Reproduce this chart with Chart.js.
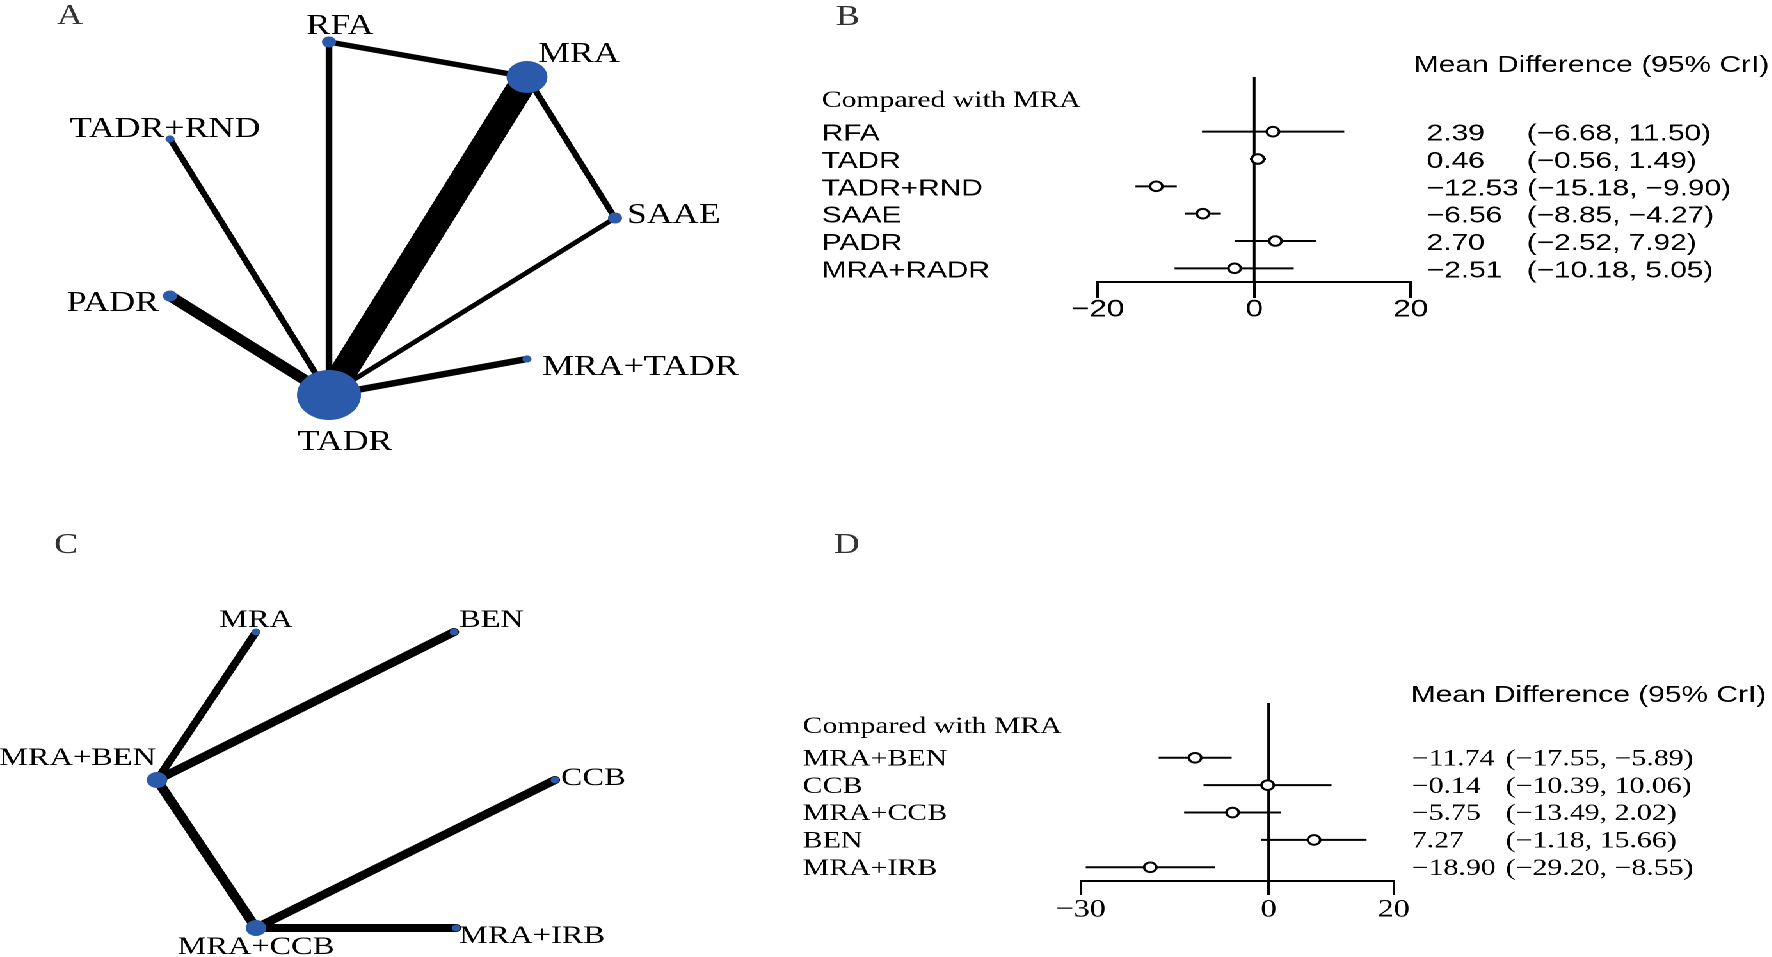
<!DOCTYPE html>
<html>
<head>
<meta charset="utf-8">
<script src="https://cdn.jsdelivr.net/npm/chart.js@4.4.1/dist/chart.umd.min.js"></script>
<style>
  html, body { margin: 0; padding: 0; background: #fff; overflow: hidden; }
  /* the whole figure is stretched horizontally, as in the source image */
  #page { position: absolute; left: 0; top: 0; width: 1385px; height: 957px;
          transform: scaleX(1.28); transform-origin: 0 0; }
  #page canvas { position: absolute; }
</style>
</head>
<body>
<div id="page">
  <canvas id="netA"></canvas>
  <canvas id="forestB"></canvas>
  <canvas id="netC"></canvas>
  <canvas id="forestD"></canvas>
</div>
<script>
// ─── DATA ───

// Panel A: treatment network (layout coordinates)
const netANodes = ['RFA', 'MRA', 'TADR+RND', 'SAAE', 'PADR', 'MRA+TADR', 'TADR'];
const netALayoutX = [329, 527, 170, 615, 170, 527, 329];
const netALayoutY = [42, 77, 139, 218, 296, 359, 395];
const netANodeWeight = [5.5, 16, 3.6, 5.5, 5.5, 3.6, 25];
const netAEdgeFrom = ['RFA', 'RFA', 'MRA', 'MRA', 'SAAE', 'TADR+RND', 'PADR', 'MRA+TADR'];
const netAEdgeTo = ['MRA', 'TADR', 'TADR', 'SAAE', 'TADR', 'TADR', 'TADR', 'TADR'];
const netAEdgeWeight = [5.5, 5.2, 22, 5, 4.5, 5, 10, 6.5];

// Panel B: forest plot, compared with MRA
const forestBLabels = ['RFA', 'TADR', 'TADR+RND', 'SAAE', 'PADR', 'MRA+RADR'];
const forestBMean = [2.39, 0.46, -12.53, -6.56, 2.70, -2.51];
const forestBLow = [-6.68, -0.56, -15.18, -8.85, -2.52, -10.18];
const forestBHigh = [11.50, 1.49, -9.90, -4.27, 7.92, 5.05];
const forestBTicks = [-20, 0, 20];

// Panel C: treatment network
const netCNodes = ['MRA', 'BEN', 'MRA+BEN', 'CCB', 'MRA+CCB', 'MRA+IRB'];
const netCLayoutX = [256, 454, 157, 555, 256, 456];
const netCLayoutY = [152, 152, 300, 300, 448, 448];
const netCNodeWeight = [3.4, 3.4, 8, 3.4, 8, 3.4];
const netCEdgeFrom = ['MRA', 'BEN', 'MRA+BEN', 'CCB', 'MRA+IRB'];
const netCEdgeTo = ['MRA+BEN', 'MRA+BEN', 'MRA+CCB', 'MRA+CCB', 'MRA+CCB'];
const netCEdgeWeight = [6.5, 8, 8, 8, 8];

// Panel D: forest plot, compared with MRA
const forestDLabels = ['MRA+BEN', 'CCB', 'MRA+CCB', 'BEN', 'MRA+IRB'];
const forestDMean = [-11.74, -0.14, -5.75, 7.27, -18.90];
const forestDLow = [-17.55, -10.39, -13.49, -1.18, -29.20];
const forestDHigh = [-5.89, 10.06, 2.02, 15.66, -8.55];
const forestDTicks = [-30, 0, 20];

// ─── STYLE / LAYOUT ───
const STRETCH = 1.28;
const NODE_BLUE = '#2c5aaa';
const SERIF = '"Liberation Serif", "Times New Roman", serif';
const SANS = '"Liberation Sans", Arial, sans-serif';

// label anchor per node: [align, dx, dy] in figure pixels
const netALabelAnchor = [['center', 11, -8], ['left', 11, -15], ['center', -5, -2], ['left', 12, 5],
                         ['right', -11, 15], ['left', 15, 16], ['center', 16, 55]];
const netCLabelAnchor = [['center', 0, -5], ['left', 5, -5], ['right', -1, -15], ['left', 6, 5],
                         ['center', 0, 26], ['left', 3, 15]];

const fmt = v => (v < 0 ? '\u2212' : '') + Math.abs(v).toFixed(2);
const fmtTick = v => (v < 0 ? '\u2212' : '') + Math.abs(v);

function placeCanvas(id, left, top, w, h) {
    const c = document.getElementById(id);
    c.style.left = left + 'px';
    c.style.top = top + 'px';
    c.width = w; c.height = h;
    c.style.width = w + 'px';
    c.style.height = h + 'px';
    return c;
}

// panel letters and node names
const netText = {
    id: 'netText',
    afterDatasetsDraw(chart, args, o) {
        const { ctx } = chart;
        const { x, y } = chart.scales;
        ctx.save();
        ctx.fillStyle = '#000';
        ctx.textBaseline = 'alphabetic';
        ctx.font = o.fontSize + 'px ' + SERIF;
        o.names.forEach((n, i) => {
            const [align, dx, dy] = o.anchor[i];
            ctx.textAlign = align;
            ctx.fillText(n, x.getPixelForValue(o.xs[i]) + dx / STRETCH, y.getPixelForValue(o.ys[i]) + dy);
        });
        ctx.fillStyle = '#333';
        ctx.textAlign = 'left';
        ctx.font = '28px ' + SERIF;
        ctx.fillText(o.letter, o.letterX, o.letterY);
        ctx.restore();
    }
};

function networkChart(id, left, top, w, h, cfg) {
    const canvas = placeCanvas(id, left, top, w, h);
    const at = name => cfg.nodes.indexOf(name);
    const edgeSets = cfg.from.map((f, k) => ({
        data: [{ x: cfg.xs[at(f)], y: cfg.ys[at(f)] }, { x: cfg.xs[at(cfg.to[k])], y: cfg.ys[at(cfg.to[k])] }],
        showLine: true,
        borderColor: '#000',
        borderWidth: cfg.edgeWeight[k],
        borderCapStyle: 'round',
        pointRadius: 0,
        order: 2
    }));
    const nodeSet = {
        data: cfg.nodes.map((n, i) => ({ x: cfg.xs[i], y: cfg.ys[i] })),
        pointRadius: cfg.nodeWeight,
        pointBackgroundColor: NODE_BLUE,
        pointBorderWidth: 0,
        order: 1
    };
    return new Chart(canvas, {
        type: 'scatter',
        data: { datasets: [nodeSet, ...edgeSets] },
        options: {
            responsive: false,
            animation: false,
            devicePixelRatio: 2,
            layout: { padding: 0, autoPadding: false },
            plugins: {
                legend: { display: false },
                tooltip: { enabled: false },
                netText: { names: cfg.nodes, xs: cfg.xs, ys: cfg.ys, anchor: cfg.anchor, fontSize: cfg.fontSize,
                           letter: cfg.letter, letterX: cfg.letterX, letterY: cfg.letterY }
            },
            scales: {
                x: { type: 'linear', display: false, min: 0, max: 800 },
                y: { type: 'linear', display: false, reverse: true, min: 0, max: h }
            }
        },
        plugins: [netText]
    });
}

// header, row labels and estimate text of a forest plot
const forestText = {
    id: 'forestText',
    afterDraw(chart, args, o) {
        const { ctx } = chart;
        const y = chart.scales.y;
        ctx.save();
        ctx.fillStyle = '#000';
        ctx.textAlign = 'left';
        ctx.textBaseline = 'alphabetic';
        ctx.font = '23.4px ' + SANS;
        ctx.fillText('Mean Difference (95% CrI)', o.headX, o.headY);
        ctx.font = '23.2px ' + SERIF;
        ctx.fillText('Compared with MRA', o.labelX, o.titleY);
        o.labels.forEach((lab, i) => {
            const base = y.getPixelForValue(i + 1) + o.rowShift;
            ctx.font = o.labelFont;
            ctx.fillText(lab, o.labelX, base);
            ctx.font = o.valueFont;
            const est = fmt(o.mean[i]);
            ctx.fillText(est, o.valueX, base);
            const ciX = Math.max(o.ciX, o.valueX + ctx.measureText(est + ' ').width);
            ctx.fillText('(' + fmt(o.low[i]) + ', ' + fmt(o.high[i]) + ')', ciX, base);
        });
        ctx.fillStyle = '#333';
        ctx.font = '28px ' + SERIF;
        ctx.fillText(o.letter, o.letterX, o.letterY);
        ctx.restore();
    }
};

function forestChart(id, left, top, w, h, cfg) {
    const canvas = placeCanvas(id, left, top, w, h);
    const n = cfg.labels.length;
    const yMin = -1, yMax = n + 0.5;
    const ciSets = cfg.labels.map((lab, i) => ({
        data: [{ x: cfg.low[i], y: i + 1 }, { x: cfg.high[i], y: i + 1 }],
        showLine: true, borderColor: '#000', borderWidth: 2, pointRadius: 0, order: 2
    }));
    const zeroSet = {
        data: [{ x: 0, y: yMin }, { x: 0, y: yMax }],
        showLine: true, borderColor: '#000', borderWidth: 2, pointRadius: 0, order: 3
    };
    const estSet = {
        data: cfg.mean.map((v, i) => ({ x: v, y: i + 1 })),
        pointRadius: 4.8, pointBackgroundColor: '#fff', pointBorderColor: '#000', pointBorderWidth: 2, order: 1
    };
    return new Chart(canvas, {
        type: 'scatter',
        data: { datasets: [estSet, ...ciSets, zeroSet] },
        options: {
            responsive: false,
            animation: false,
            devicePixelRatio: 2,
            layout: { padding: cfg.padding, autoPadding: false },
            plugins: {
                legend: { display: false },
                tooltip: { enabled: false },
                forestText: cfg.text
            },
            scales: {
                x: {
                    type: 'linear', min: cfg.ticks[0], max: cfg.ticks[cfg.ticks.length - 1],
                    afterBuildTicks: axis => { axis.ticks = cfg.ticks.map(v => ({ value: v })); },
                    afterFit: axis => { axis.height = 40; },
                    grid: { drawOnChartArea: false, drawTicks: true, tickLength: cfg.tickLength, color: '#000', lineWidth: 2 },
                    border: { display: true, color: '#000', width: 2 },
                    ticks: { color: '#000', font: { family: cfg.tickFamily, size: cfg.tickSize }, padding: cfg.tickPad,
                             maxRotation: 0, callback: v => fmtTick(v) }
                },
                y: { type: 'linear', display: false, reverse: true, min: yMin, max: yMax }
            }
        },
        plugins: [forestText]
    });
}

// ─── BUILD ───
const FOREST_LEFT = 790 / STRETCH;
const u = px => px / STRETCH;   // figure px → unstretched px

networkChart('netA', 0, 0, 625, 480, {
    nodes: netANodes, xs: netALayoutX, ys: netALayoutY, nodeWeight: netANodeWeight,
    from: netAEdgeFrom, to: netAEdgeTo, edgeWeight: netAEdgeWeight,
    anchor: netALabelAnchor, fontSize: 28, letter: 'A', letterX: u(57), letterY: 24
});

networkChart('netC', 0, 480, 625, 477, {
    nodes: netCNodes, xs: netCLayoutX, ys: netCLayoutY, nodeWeight: netCNodeWeight,
    from: netCEdgeFrom, to: netCEdgeTo, edgeWeight: netCEdgeWeight,
    anchor: netCLabelAnchor, fontSize: 25.3, letter: 'C', letterX: u(54), letterY: 73
});

forestChart('forestB', FOREST_LEFT, 0, 768, 480, {
    labels: forestBLabels, mean: forestBMean, low: forestBLow, high: forestBHigh, ticks: forestBTicks,
    padding: { left: u(1098 - 790), right: 768 - u(1411 - 790), top: 77, bottom: 480 - 282 - 40 },
    tickLength: 16, tickFamily: SANS, tickSize: 24.5, tickPad: -3,
    text: {
        labels: forestBLabels, mean: forestBMean, low: forestBLow, high: forestBHigh,
        headX: u(1414 - 790), headY: 72, labelX: u(822 - 790), titleY: 107, rowShift: 9,
        labelFont: '23.3px ' + SANS, valueFont: '23.3px ' + SANS,
        valueX: u(1427 - 790), ciX: u(1527 - 790),
        letter: 'B', letterX: u(836 - 790), letterY: 25
    }
});

forestChart('forestD', FOREST_LEFT, 480, 768, 477, {
    labels: forestDLabels, mean: forestDMean, low: forestDLow, high: forestDHigh, ticks: forestDTicks,
    padding: { left: u(1081 - 790), right: 768 - u(1394 - 790), top: 223, bottom: 477 - 401 - 40 },
    tickLength: 14, tickFamily: SERIF, tickSize: 25, tickPad: 0,
    text: {
        labels: forestDLabels, mean: forestDMean, low: forestDLow, high: forestDHigh,
        headX: u(1411 - 790), headY: 222, labelX: u(803 - 790), titleY: 253, rowShift: 7.7,
        labelFont: '23.3px ' + SERIF, valueFont: '23.3px ' + SERIF,
        valueX: u(1412 - 790), ciX: u(1506 - 790),
        letter: 'D', letterX: u(834 - 790), letterY: 73
    }
});
</script>
</body>
</html>
